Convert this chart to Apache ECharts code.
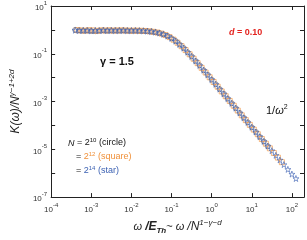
<!DOCTYPE html>
<html><head><meta charset="utf-8">
<script src="https://cdn.jsdelivr.net/npm/echarts@6/dist/echarts.min.js"></script>
<style>html,body{margin:0;padding:0;background:#fff}#c{width:307px;height:240px}</style>
</head><body><div id="c"></div>
<script>
// N = 2^14 (star)
const starW = [3.98e-4,5.01e-4,6.31e-4,7.94e-4,1e-3,1.26e-3,1.58e-3,2.0e-3,2.51e-3,3.16e-3,3.98e-3,5.01e-3,6.31e-3,7.94e-3,0.01,
  0.0126,0.0158,0.020,0.0251,0.0316,0.0398,0.0501,0.0631,0.0794,0.1,
  0.126,0.158,0.20,0.251,0.316,0.398,0.501,0.631,0.794,1.0,
  1.26,1.58,2.0,2.51,3.16,3.98,5.01,6.31,7.94,10,
  12.6,15.8,20.0,25.1,31.6,39.8,50.1,63.1,79.4,100,126];
const starK = [0.97,0.93,0.96,0.94,0.92,0.95,0.93,0.96,0.94,0.95,0.93,0.94,0.95,0.93,0.94,
  0.935,0.925,0.91,0.89,0.853,0.805,0.74,0.655,0.555,0.446,
  0.34,0.248,0.173,0.117,0.0773,0.0502,0.0324,0.0206,0.0131,0.00832,
  0.00527,0.00333,0.0021,0.00133,8.4e-4,5.3e-4,3.33e-4,2.1e-4,1.33e-4,8.4e-5,
  5.3e-5,3.4e-5,2.15e-5,1.37e-5,8.8e-6,5.6e-6,3.6e-6,2.3e-6,1.45e-6,9.2e-7,6.0e-7];
// N = 2^12 (square)
const squareW = [4.47e-4,5.62e-4,7.08e-4,8.91e-4,1.12e-3,1.41e-3,1.78e-3,2.24e-3,2.82e-3,3.55e-3,4.47e-3,5.62e-3,7.08e-3,8.91e-3,
  0.0112,0.0141,0.0178,0.0224,0.0282,0.0355,0.0447,0.0562,0.0708,0.0891,
  0.112,0.141,0.178,0.224,0.282,0.355,0.447,0.562,0.708,0.891,
  1.12,1.41,1.78,2.24,2.82,3.55,4.47,5.62,7.08,8.91,
  11.2,14.1,17.8,22.4,28.2,35.5,44.7,56.2];
const squareK = [0.98,0.95,0.93,0.97,0.95,0.92,0.96,0.94,0.97,0.93,0.95,0.96,0.94,0.93,
  0.93,0.93,0.92,0.90,0.873,0.83,0.775,0.70,0.607,0.50,
  0.39,0.29,0.208,0.143,0.0952,0.0623,0.0404,0.0258,0.0164,0.0104,
  0.0066,0.0042,0.00265,0.00167,0.00106,6.7e-4,4.2e-4,2.65e-4,1.67e-4,1.06e-4,
  6.7e-5,4.3e-5,2.7e-5,1.72e-5,1.1e-5,7.0e-6,4.5e-6,2.9e-6];
// N = 2^10 (circle)
const circleW = [3.98e-4,5.01e-4,6.31e-4,7.94e-4,1e-3,1.26e-3,1.58e-3,2.0e-3,2.51e-3,3.16e-3,3.98e-3,5.01e-3,6.31e-3,7.94e-3,0.01,
  0.0126,0.0158,0.020,0.0251,0.0316,0.0398,0.0501,0.0631,0.0794,0.1,
  0.126,0.158,0.20,0.251,0.316,0.398,0.501,0.631,0.794,1.0,
  1.26,1.58,2.0,2.51,3.16,3.98,5.01,6.31,7.94,10,
  12.6,15.8,20.0,25.1];
const circleK = [1.0,0.96,0.92,0.95,0.90,0.88,0.93,0.96,0.92,0.94,0.96,0.93,0.95,0.94,0.92,
  0.94,0.92,0.915,0.88,0.86,0.80,0.745,0.65,0.56,0.44,
  0.345,0.245,0.175,0.115,0.078,0.0495,0.0328,0.0203,0.0133,0.0082,
  0.0053,0.0033,0.00212,0.00131,8.5e-4,5.25e-4,3.35e-4,2.08e-4,1.34e-4,8.3e-5,
  5.35e-5,3.3e-5,2.12e-5,1.34e-5];

const xMin = 1e-4, xMax = 200, yMin = 1e-7, yMax = 10;
const FONT = 'Liberation Sans, Arial, sans-serif';
const ORANGE = '#f0913a', BLUE = '#3d62b3', GRAY = '#5f6478', RED = '#e3231f';

function pair(w, k) { return w.map((v, i) => [v, k[i]]); }
function expLabel(v, oddOnly) {
  const e = Math.log10(v), r = Math.round(e);
  if (Math.abs(e - r) > 0.01) return '';
  if (oddOnly && Math.abs(r % 2) !== 1) return '';
  return '{b|10}{s|' + r + '}';
}
const tickRich = {
  b: {fontSize: 8, fontFamily: FONT, color: '#333', lineHeight: 12, verticalAlign: 'bottom'},
  s: {fontSize: 6, fontFamily: FONT, color: '#333', lineHeight: 7, verticalAlign: 'top'}
};
const STAR = 'path://M50,0 L61,35 L98,35 L68,57 L79,91 L50,70 L21,91 L32,57 L2,35 L39,35 Z';

const baseAxis = {
  type: 'log', logBase: 10, interval: 1,
  axisLine: {show: true, lineStyle: {color: '#222', width: 1}},
  axisTick: {show: true, inside: true, length: 4, lineStyle: {color: '#222', width: 1}},
  splitLine: {show: false}, minorTick: {show: false}
};

const chart = echarts.init(document.getElementById('c'), null, {renderer: 'canvas'});
chart.setOption({
  animation: false,
  backgroundColor: '#fff',
  grid: {left: 44, right: 2, top: 5, bottom: 40},
  xAxis: [
    Object.assign({}, baseAxis, {min: xMin, max: xMax, position: 'bottom',
      axisLabel: {margin: 5, formatter: v => expLabel(v, false), rich: tickRich, showMinLabel: true, showMaxLabel: true},
      name: '{w|ω }{e|/E}{sub|Th}{t|~ }{w|ω }{n|/N}{s|1−γ−d}',
      nameLocation: 'middle', nameGap: 20,
      nameTextStyle: {rich: {
        w: {fontSize: 11, fontStyle: 'italic', fontFamily: FONT, color: '#222', lineHeight: 16, verticalAlign: 'middle'},
        e: {fontSize: 12, fontStyle: 'italic', fontWeight: 'bold', fontFamily: FONT, color: '#222', lineHeight: 16, verticalAlign: 'middle'},
        sub: {fontSize: 8, fontStyle: 'italic', fontWeight: 'bold', fontFamily: FONT, color: '#222', lineHeight: 8, verticalAlign: 'bottom'},
        t: {fontSize: 11, fontFamily: FONT, color: '#222', lineHeight: 16, verticalAlign: 'middle'},
        n: {fontSize: 12, fontStyle: 'italic', fontFamily: FONT, color: '#222', lineHeight: 16, verticalAlign: 'middle'},
        s: {fontSize: 8, fontStyle: 'italic', fontFamily: FONT, color: '#222', lineHeight: 8, verticalAlign: 'top'}
      }}
    }),
    Object.assign({}, baseAxis, {min: xMin, max: xMax, position: 'top', axisLabel: {show: false}})
  ],
  yAxis: [
    Object.assign({}, baseAxis, {min: yMin, max: yMax, position: 'left',
      axisLabel: {margin: 4, formatter: v => expLabel(v, true), rich: tickRich, showMinLabel: true, showMaxLabel: true},
      name: '{k|K(ω)/N}{s|γ−1+2d}', nameLocation: 'middle', nameRotate: 90, nameGap: 24,
      nameTextStyle: {rich: {
        k: {fontSize: 12, fontStyle: 'italic', fontFamily: FONT, color: '#222', lineHeight: 16, verticalAlign: 'middle'},
        s: {fontSize: 8, fontStyle: 'italic', fontFamily: FONT, color: '#222', lineHeight: 8, verticalAlign: 'top'}
      }}
    }),
    Object.assign({}, baseAxis, {min: yMin, max: yMax, position: 'right', axisLabel: {show: false}})
  ],
  series: [
    {type: 'scatter', name: 'circle', data: pair(circleW, circleK), symbol: 'circle', symbolSize: 5,
     itemStyle: {color: 'rgba(0,0,0,0)', borderColor: GRAY, borderWidth: 0.8}},
    {type: 'scatter', name: 'square', data: pair(squareW, squareK), symbol: 'rect', symbolSize: 5,
     itemStyle: {color: 'rgba(0,0,0,0)', borderColor: ORANGE, borderWidth: 0.8}},
    {type: 'scatter', name: 'star', data: pair(starW, starK), symbol: STAR, symbolSize: 6,
     itemStyle: {color: 'rgba(0,0,0,0)', borderColor: BLUE, borderWidth: 0.8}}
  ],
  graphic: [
    {type: 'text', left: 100, top: 56, style: {text: 'γ = 1.5', font: 'bold 11px ' + FONT, fill: '#111'}},
    {type: 'text', left: 229, top: 28, style: {text: '{d|d}{t| = 0.10}', rich: {
      d: {font: 'italic bold 9px ' + FONT, fill: RED},
      t: {font: 'bold 9px ' + FONT, fill: RED}}}},
    {type: 'text', left: 266, top: 104, style: {text: '{a|1/}{w|ω}{s|2}', rich: {
      a: {font: '11px ' + FONT, fill: '#111', lineHeight: 14, verticalAlign: 'middle'},
      w: {font: 'italic 11px ' + FONT, fill: '#111', lineHeight: 14, verticalAlign: 'middle'},
      s: {font: '7px ' + FONT, fill: '#111', lineHeight: 7, verticalAlign: 'top'}}}},
    {type: 'text', left: 68, top: 137, style: {text: '{n|N}{t| = 2}{s|10}{t| (circle)}', rich: {
      n: {font: 'italic 9px ' + FONT, fill: '#111', lineHeight: 12, verticalAlign: 'middle'},
      t: {font: '9px ' + FONT, fill: '#111', lineHeight: 12, verticalAlign: 'middle'},
      s: {font: '6px ' + FONT, fill: '#111', lineHeight: 6, verticalAlign: 'top'}}}},
    {type: 'text', left: 76, top: 151, style: {text: '{t|= }{o|2}{s|12}{o| (square)}', rich: {
      t: {font: '9px ' + FONT, fill: '#111', lineHeight: 12, verticalAlign: 'middle'},
      o: {font: '9px ' + FONT, fill: ORANGE, lineHeight: 12, verticalAlign: 'middle'},
      s: {font: '6px ' + FONT, fill: ORANGE, lineHeight: 6, verticalAlign: 'top'}}}},
    {type: 'text', left: 76, top: 165, style: {text: '{t|= }{o|2}{s|14}{o| (star)}', rich: {
      t: {font: '9px ' + FONT, fill: '#111', lineHeight: 12, verticalAlign: 'middle'},
      o: {font: '9px ' + FONT, fill: BLUE, lineHeight: 12, verticalAlign: 'middle'},
      s: {font: '6px ' + FONT, fill: BLUE, lineHeight: 6, verticalAlign: 'top'}}}}
  ]
});
</script></body></html>
